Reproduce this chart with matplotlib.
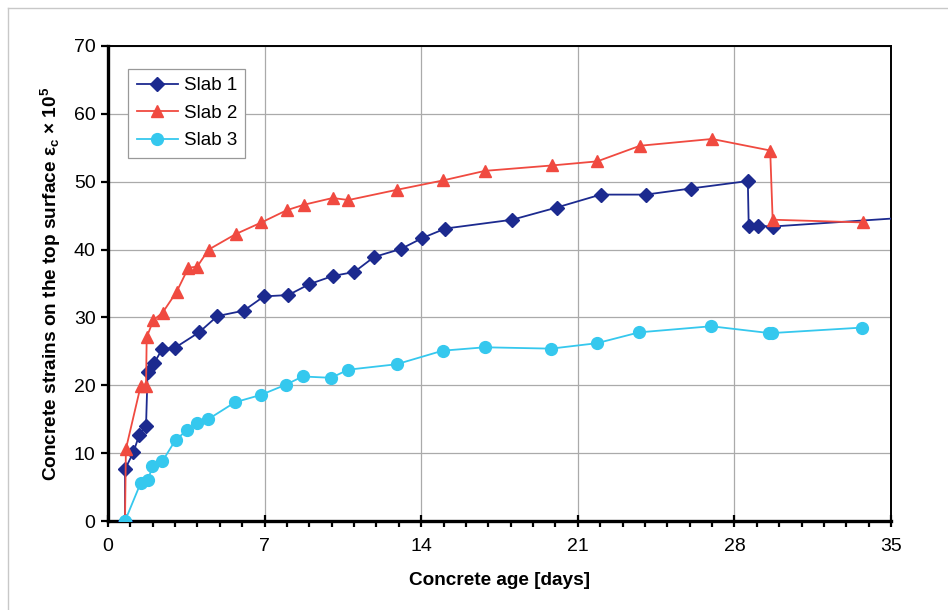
import numpy as np
import matplotlib
matplotlib.use("Agg")
import matplotlib.pyplot as plt
from matplotlib.lines import Line2D
from matplotlib.ticker import MultipleLocator

plt.rcParams['font.family'] = ['Liberation Sans', 'DejaVu Sans']
plt.rcParams['mathtext.fontset'] = 'custom'
plt.rcParams['mathtext.rm'] = 'Liberation Sans:bold'
plt.rcParams['mathtext.it'] = 'Liberation Sans:bold'
plt.rcParams['mathtext.bf'] = 'Liberation Sans:bold'

# Slab 1 (the last point lies past the axis edge, the line runs off the plot)
slab1_x = [0.76, 0.76, 1.13, 1.40, 1.70, 1.77, 2.07, 2.43, 2.98, 4.07, 4.89, 6.07,
           6.97, 8.06, 9.0, 10.04, 11.01, 11.89, 13.1, 14.05, 15.08, 18.07, 20.06,
           22.02, 24.04, 26.05, 28.6, 28.64, 29.07, 29.71, 37.0]
slab1_y = [0.0, 7.6, 10.1, 12.7, 14.0, 21.9, 23.3, 25.4, 25.5, 27.8, 30.2, 31.0,
           33.1, 33.3, 34.9, 36.1, 36.7, 38.9, 40.1, 41.7, 43.1, 44.4, 46.2,
           48.1, 48.1, 49.0, 50.1, 43.5, 43.5, 43.4, 45.0]

slab2_x = [0.76, 0.80, 1.46, 1.70, 1.73, 2.03, 2.44, 3.07, 3.59, 3.99, 4.50, 5.72,
           6.86, 7.99, 8.75, 10.04, 10.75, 12.9, 14.99, 16.85, 19.86, 21.87, 23.78,
           27.0, 29.6, 29.71, 33.74]
slab2_y = [0.0, 10.6, 19.9, 19.9, 27.1, 29.6, 30.7, 33.8, 37.3, 37.5, 40.0, 42.3,
           44.0, 45.8, 46.6, 47.6, 47.3, 48.8, 50.2, 51.6, 52.4, 53.0, 55.3,
           56.3, 54.6, 44.4, 44.0]

slab3_x = [0.76, 1.46, 1.80, 1.98, 2.43, 3.03, 3.55, 3.96, 4.48, 5.68, 6.85, 7.96,
           8.70, 9.97, 10.74, 12.9, 14.96, 16.85, 19.80, 21.85, 23.74, 26.96, 29.55,
           29.70, 33.69]
slab3_y = [0.0, 5.6, 6.1, 8.1, 8.8, 12.0, 13.4, 14.5, 15.0, 17.5, 18.6, 20.1,
           21.3, 21.1, 22.3, 23.1, 25.1, 25.6, 25.4, 26.2, 27.8, 28.7, 27.7,
           27.7, 28.5]

fig = plt.figure(figsize=(9.48, 6.10), dpi=100)
ax = fig.add_axes([108 / 948, 89 / 610, 783 / 948, 475 / 610])

# chart-area frame (left and top edges visible)
fig.add_artist(Line2D([8 / 948, 8 / 948], [0, 1 - 8 / 610], color='#c8c8c8', lw=1.0))
fig.add_artist(Line2D([8 / 948, 1], [1 - 8 / 610, 1 - 8 / 610], color='#c8c8c8', lw=1.0))

ax.plot(slab1_x, slab1_y, color='#1c2a8f', lw=1.3, marker='D', ms=7,
        label='Slab 1', zorder=3)
ax.plot(slab2_x, slab2_y, color='#f04a40', lw=1.3, marker='^', ms=9,
        label='Slab 2', zorder=3)
ax.plot(slab3_x, slab3_y, color='#35c8ee', lw=1.3, marker='o', ms=8.5,
        label='Slab 3', zorder=4)

ax.set_xlim(0, 35)
ax.set_ylim(0, 70)
ax.xaxis.set_major_locator(MultipleLocator(7))
ax.xaxis.set_minor_locator(MultipleLocator(1))
ax.yaxis.set_major_locator(MultipleLocator(10))
ax.grid(True, which='major', color='#aaaaaa', lw=0.9)
ax.set_axisbelow(True)

ax.tick_params(axis='x', which='major', direction='inout', length=9, width=1.6,
               labelsize=14, pad=8)
ax.tick_params(axis='x', which='minor', direction='out', length=4.5, width=1.6)
ax.tick_params(axis='y', which='major', direction='out', length=5, width=1.6,
               labelsize=14, pad=4)

for side in ['left', 'bottom']:
    ax.spines[side].set_linewidth(2.4)
for side in ['top', 'right']:
    ax.spines[side].set_linewidth(1.4)

ax.set_xlabel('Concrete age [days]', fontsize=13.7, fontweight='bold', labelpad=12)
ax.set_ylabel(r'Concrete strains on the top surface ε$_\mathrm{c}$ × 10$^\mathrm{5}$',
              fontsize=13.7, fontweight='bold', labelpad=8)

leg = ax.legend(loc='upper left', bbox_to_anchor=(0.026, 0.952), borderaxespad=0,
                fontsize=13.5, fancybox=False, framealpha=1, edgecolor='#999999',
                handlelength=2.2, handletextpad=0.3, borderpad=0.45, labelspacing=0.55)
leg.get_frame().set_linewidth(0.9)

fig.savefig('out.png', dpi=100)
